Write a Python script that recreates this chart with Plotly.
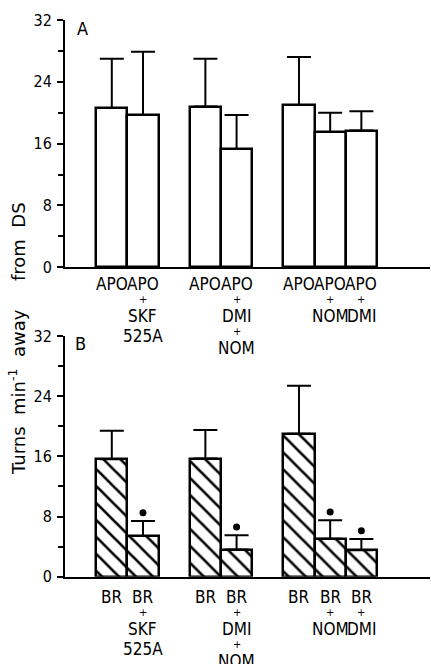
import plotly.graph_objects as go

# ---- data ----
positions = [1, 2, 4, 5, 7, 8, 9]
labels_A = [["APO"], ["APO", "+", "SKF", "525A"], ["APO"], ["APO", "+", "DMI", "+", "NOM"],
            ["APO"], ["APO", "+", "NOM"], ["APO", "+", "DMI"]]
labels_B = [["BR"], ["BR", "+", "SKF", "525A"], ["BR"], ["BR", "+", "DMI", "+", "NOM"],
            ["BR"], ["BR", "+", "NOM"], ["BR", "+", "DMI"]]
mean_A = [20.6, 19.7, 20.8, 15.3, 21.0, 17.5, 17.7]
err_top_A = [27.0, 27.9, 27.0, 19.7, 27.2, 20.0, 20.2]
mean_B = [15.6, 5.4, 15.7, 3.6, 19.0, 5.05, 3.5]
err_top_B = [19.4, 7.4, 19.5, 5.5, 25.4, 7.5, 5.0]
signif_B = [False, True, False, True, False, True, True]
y_ticks = [0, 8, 16, 24, 32]
y_title = "Turns\u00a0\u00a0min<sup>-1</sup>\u00a0\u00a0away\u00a0\u00a0\u00a0\u00a0\u00a0from\u00a0\u00a0DS"

W, H = 431, 664
def py(pix):
    return 1 - pix / H

FONT = "DejaVu Sans Condensed"

fig = go.Figure()

fig.add_trace(go.Bar(
    x=positions, y=mean_A, width=1, xaxis="x", yaxis="y",
    marker=dict(color="white", line=dict(color="black", width=2.5)),
    error_y=dict(type="data", symmetric=False,
                 array=[t - m for t, m in zip(err_top_A, mean_A)],
                 arrayminus=[0] * len(mean_A), color="black", thickness=2, width=12),
    showlegend=False))

fig.add_trace(go.Bar(
    x=positions, y=mean_B, width=1, xaxis="x2", yaxis="y2",
    marker=dict(color="white", line=dict(color="black", width=2.5),
                pattern=dict(shape="\\", fgcolor="black", bgcolor="white", size=12,
                             solidity=0.22, fgopacity=1)),
    error_y=dict(type="data", symmetric=False,
                 array=[t - m for t, m in zip(err_top_B, mean_B)],
                 arrayminus=[0] * len(mean_B), color="black", thickness=2, width=12),
    showlegend=False))

sx = [p for p, s in zip(positions, signif_B) if s]
sy = [t + 1.1 for t, s in zip(err_top_B, signif_B) if s]
fig.add_trace(go.Scatter(x=sx, y=sy, mode="markers", xaxis="x2", yaxis="y2",
                         marker=dict(color="black", size=7, symbol="circle"),
                         cliponaxis=False, showlegend=False))

xdom = [65 / W, 430 / W]
xcommon = dict(range=[-0.5, 11.2], showline=True, linecolor="black", linewidth=2,
               showticklabels=False, ticks="", showgrid=False, zeroline=False,
               fixedrange=True, automargin=False)
ycommon = dict(range=[0, 32], tickvals=y_ticks, ticks="outside", ticklen=6, tickwidth=2,
               tickcolor="black", showline=True, linecolor="black", linewidth=2,
               showgrid=False, zeroline=False, ticklabelstandoff=2, automargin=False,
               fixedrange=True,
               minor=dict(dtick=4, ticks="outside", ticklen=5, tickwidth=2, tickcolor="black"),
               tickfont=dict(family=FONT, size=16, color="black"))

fig.update_layout(
    width=W, height=H, margin=dict(l=0, r=0, t=0, b=0, autoexpand=False),
    paper_bgcolor="white", plot_bgcolor="white", bargap=0,
    xaxis=dict(domain=xdom, anchor="y", **xcommon),
    yaxis=dict(domain=[py(267.3), py(20)], anchor="x", **ycommon),
    xaxis2=dict(domain=xdom, anchor="y2", **xcommon),
    yaxis2=dict(domain=[py(576.7), py(336)], anchor="x2", **ycommon),
)

annots = []

def add_labels(labels, xref, base):
    for p, lines in zip(positions, labels):
        y = base
        prev = None
        for i, t in enumerate(lines):
            if i > 0:
                if t == "+":
                    y += 15
                elif prev == "+":
                    y += 17
                else:
                    y += 20
            annots.append(dict(x=p, y=py(y), xref=xref, yref="paper", text=t,
                               showarrow=False, xanchor="center", yanchor="middle",
                               font=dict(family=FONT, size=(11 if t == "+" else 17), color="black")))
            prev = t

add_labels(labels_A, "x", 284)
add_labels(labels_B, "x2", 597)

annots.append(dict(x=82 / W, y=py(28.5), xref="paper", yref="paper", text="A", showarrow=False,
                   xanchor="center", yanchor="middle",
                   font=dict(family=FONT, size=18, color="black")))
annots.append(dict(x=80 / W, y=py(343), xref="paper", yref="paper", text="B", showarrow=False,
                   xanchor="center", yanchor="middle",
                   font=dict(family=FONT, size=18, color="black")))
annots.append(dict(x=17 / W, y=py(339), xref="paper", yref="paper",
                   text=y_title, textangle=-90, showarrow=False,
                   xanchor="center", yanchor="middle",
                   font=dict(family="DejaVu Sans", size=18, color="black")))

fig.update_layout(annotations=annots)
fig.write_html("out.html", config={"displayModeBar": False},
               post_script="document.body.style.margin='0';document.body.style.overflow='hidden';")
